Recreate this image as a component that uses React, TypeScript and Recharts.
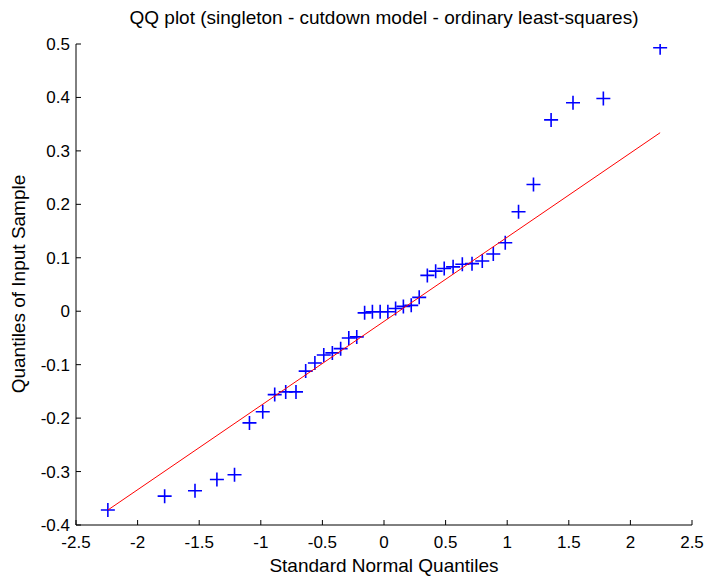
import React from 'react';
import { ScatterChart, Scatter, XAxis, YAxis } from 'recharts';

const normalQuantiles = [
  -2.2414, -1.7805, -1.5341, -1.3563, -1.2133, -1.092, -0.9842, -0.8871, -0.7977, -0.7144,
  -0.6357, -0.5609, -0.4888, -0.4193, -0.3518, -0.2858, -0.2211, -0.1573, -0.0941, -0.0313,
  0.0313, 0.0941, 0.1573, 0.2211, 0.2858, 0.3518, 0.4193, 0.4888, 0.5609, 0.6357,
  0.7144, 0.7977, 0.8871, 0.9842, 1.092, 1.2133, 1.3563, 1.5341, 1.7805, 2.2414,
];
const sampleQuantiles = [
  -0.372, -0.346, -0.336, -0.315, -0.306, -0.209, -0.188, -0.156, -0.151, -0.151,
  -0.112, -0.097, -0.082, -0.078, -0.07, -0.05, -0.048, -0.003, -0.001, -0.001,
  -0.001, 0.005, 0.009, 0.011, 0.026, 0.067, 0.075, 0.08, 0.083, 0.088,
  0.089, 0.094, 0.107, 0.128, 0.186, 0.237, 0.358, 0.39, 0.398, 0.493,
];
const fitLineX = [-2.2414, 2.2414];
const fitLineY = [-0.372, 0.334];
const xTicks = [-2.5, -2, -1.5, -1, -0.5, 0, 0.5, 1, 1.5, 2, 2.5];
const yTicks = [-0.4, -0.3, -0.2, -0.1, 0, 0.1, 0.2, 0.3, 0.4, 0.5];

const points = normalQuantiles.map((x, i) => ({ x, y: sampleQuantiles[i] }));
const fitLine = fitLineX.map((x, i) => ({ x, y: fitLineY[i] }));

const FONT = '"Liberation Sans", Arial, Helvetica, sans-serif';

const Plus = (props: any) => {
  const { cx, cy } = props;
  if (cx == null || cy == null) return <g />;
  return (
    <path
      d={`M${cx - 7},${cy}H${cx + 7}M${cx},${cy - 7}V${cy + 7}`}
      stroke="#0000ff"
      strokeWidth={1.6}
      fill="none"
    />
  );
};

const Empty = () => <g />;

export default function App() {
  const tickStyle = { fill: '#000', fontSize: 17, fontFamily: FONT };
  const labelFont = 19;
  return (
    <div
      style={{
        position: 'relative', width: 707, height: 578, overflow: 'hidden',
        fontFamily: FONT, background: '#fff',
      }}
    >
      <style>{'html,body{margin:0;padding:0;background:#fff;}'}</style>
      <ScatterChart width={707} height={578} margin={{ top: 44, right: 15, bottom: 23, left: 16 }}>
        <XAxis
          type="number"
          dataKey="x"
          domain={[-2.5, 2.5]}
          ticks={xTicks}
          allowDataOverflow
          height={30}
          tickSize={-5}
          tickMargin={16}
          tick={tickStyle}
          axisLine={{ stroke: '#000', strokeWidth: 1 }}
          tickLine={{ stroke: '#000', strokeWidth: 1 }}
          interval={0}
        />
        <YAxis
          type="number"
          dataKey="y"
          domain={[-0.4, 0.5]}
          ticks={yTicks}
          allowDataOverflow
          width={60}
          tickSize={-5}
          tickMargin={11}
          tick={tickStyle}
          axisLine={{ stroke: '#000', strokeWidth: 1 }}
          tickLine={{ stroke: '#000', strokeWidth: 1 }}
          interval={0}
        />
        <Scatter data={points} shape={Plus} isAnimationActive={false} />
        <Scatter
          data={fitLine}
          shape={Empty}
          line={{ stroke: '#ff0000', strokeWidth: 1 }}
          lineType="joint"
          isAnimationActive={false}
        />
      </ScatterChart>
      <div
        style={{
          position: 'absolute', left: 84, top: 7, width: 600, height: 22, lineHeight: '22px',
          textAlign: 'center', fontSize: labelFont, color: '#000', whiteSpace: 'nowrap',
        }}
      >
        QQ plot (singleton - cutdown model - ordinary least-squares)
      </div>
      <div
        style={{
          position: 'absolute', left: 84, top: 555, width: 600, height: 22, lineHeight: '22px',
          textAlign: 'center', fontSize: labelFont, color: '#000', whiteSpace: 'nowrap',
        }}
      >
        Standard Normal Quantiles
      </div>
      <div
        style={{
          position: 'absolute', left: -181, top: 273, width: 400, height: 22, lineHeight: '22px',
          textAlign: 'center', fontSize: labelFont, color: '#000', whiteSpace: 'nowrap',
          transform: 'rotate(-90deg)',
        }}
      >
        Quantiles of Input Sample
      </div>
    </div>
  );
}
